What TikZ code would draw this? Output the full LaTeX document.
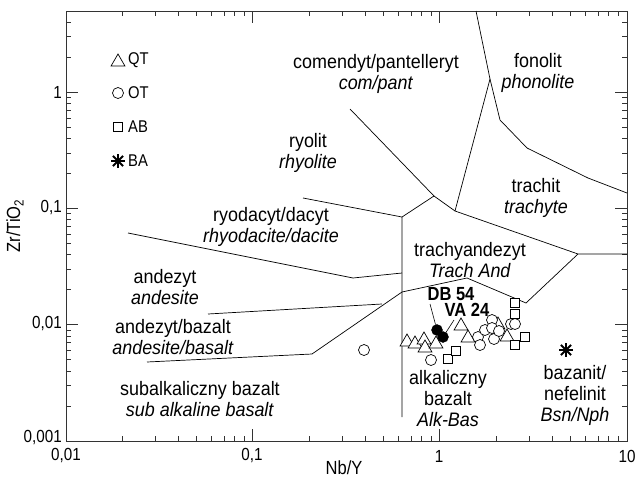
\documentclass[tikz,border=0pt]{standalone}
\usepackage{fontspec}
\setmainfont{Liberation Sans}
\newfontfamily\condfont{Liberation Sans}[FakeStretch=0.87]
\newfontfamily\lblfont{Liberation Sans}[FakeStretch=0.92]
\usetikzlibrary{shapes.geometric}
\begin{document}
\begin{tikzpicture}[x=1pt,y=-1pt,
  lbl/.style={align=center,inner sep=0,font=\lblfont\fontsize{19.5}{21}\selectfont},
  ticklbl/.style={inner sep=0,font=\condfont\fontsize{17.5}{20}\selectfont},
  leglbl/.style={inner sep=0,font=\condfont\fontsize{17}{20}\selectfont},
  axlbl/.style={inner sep=0,font=\condfont\fontsize{19}{22}\selectfont},
  smp/.style={inner sep=0,font=\condfont\fontsize{19}{21}\selectfont\bfseries},
  bnd/.style={line width=0.7pt,line join=round},
  frame/.style={line width=1pt,draw=black!80},
  tick/.style={line width=0.8pt,draw=black!80},
  tri/.style={draw,regular polygon,regular polygon sides=3,inner sep=0,minimum size=16pt,line width=0.7pt,fill=white},
  circ/.style={draw,circle,inner sep=0,minimum size=11pt,line width=0.7pt,fill=white},
  sq/.style={draw,rectangle,inner sep=0,minimum size=9.5pt,line width=0.7pt,fill=white},
  dot/.style={draw,circle,inner sep=0,minimum size=11pt,fill=black},
  starnode/.style={circle,inner sep=0,minimum size=14pt},
  spoke/.style={line width=1.9pt},
  leader/.style={line width=0.6pt}]
\useasboundingbox (0,0) rectangle (637,482);
% frame
\draw[frame] (66,11) rectangle (627,441);
% x ticks
\foreach \d in {0,1,2}{
  \foreach \m in {2,...,9}{
    \pgfmathsetmacro\xx{66+187*(\d+log10(\m))}
    \draw[tick] (\xx,441) -- ++(0,-5);
    \draw[tick] (\xx,11) -- ++(0,5);
  }
}
\foreach \xx in {252,439}{
  \draw[tick] (\xx,441) -- ++(0,-12);
  \draw[tick] (\xx,11) -- ++(0,12);
}
% y ticks
\foreach \d in {0,1,2}{
  \foreach \m in {2,...,9}{
    \pgfmathsetmacro\yy{441-116.3*(\d+log10(\m))}
    \draw[tick] (66,\yy) -- ++(5,0);
    \draw[tick] (627,\yy) -- ++(-5,0);
  }
}
\foreach \m in {2,3,4}{
  \pgfmathsetmacro\yy{441-116.3*(3+log10(\m))}
  \draw[tick] (66,\yy) -- ++(5,0);
  \draw[tick] (627,\yy) -- ++(-5,0);
}
\foreach \yy in {324,208,92}{
  \draw[tick] (66,\yy) -- ++(12,0);
  \draw[tick] (627,\yy) -- ++(-12,0);
}
% tick labels
\node[ticklbl,anchor=east] (ly1) at (62,92) {1};
\node[ticklbl,anchor=east] (ly2) at (62,208) {0,1};
\node[ticklbl,anchor=east] (ly3) at (62,324) {0,01};
\node[ticklbl,anchor=east] (ly4) at (62,438) {0,001};
\node[ticklbl] (lx1) at (66,456) {0,01};
\node[ticklbl] (lx2) at (252,456) {0,1};
\node[ticklbl] (lx3) at (439,456) {1};
\node[ticklbl] (lx4) at (627,456) {10};
\node[axlbl] (xt) at (344,468) {Nb/Y};
\node[axlbl,rotate=90] (yt) at (15,226) {Zr/TiO\textsubscript{2}};
% boundary vertices
\coordinate (a1) at (476,11);
\coordinate (a2) at (490,79);
\coordinate (a3) at (500,120);
\coordinate (a4) at (527,148);
\coordinate (a5) at (588,178);
\coordinate (a6) at (627,193);
\coordinate (b1) at (350,109);
\coordinate (b2) at (434,196);
\coordinate (b3) at (455,211);
\coordinate (b4) at (578,254);
\coordinate (b5) at (627,254);
\coordinate (c1) at (402,217);
\coordinate (c2) at (303,198);
\coordinate (c3) at (402,417);
\coordinate (d1) at (128,233);
\coordinate (d2) at (353,278);
\coordinate (d3) at (402,273);
\coordinate (e1) at (208,314);
\coordinate (e2) at (382,304);
\coordinate (f1) at (147,362);
\coordinate (f2) at (312,354);
\coordinate (f3) at (402,292);
\coordinate (f4) at (467,278);
\coordinate (f5) at (526,303);
\draw[bnd] (a1) -- (a2) -- (a3) -- (a4) -- (a5) -- (a6);
\draw[bnd] (a2) -- (b3);
\draw[bnd] (b1) -- (b2) -- (b3) -- (b4) -- (b5);
\draw[bnd] (b2) -- (c1);
\draw[bnd] (c2) -- (c1) -- (c3);
\draw[bnd] (d1) -- (d2) -- (d3);
\draw[bnd] (e1) -- (e2);
\draw[bnd] (f1) -- (f2) -- (f3) -- (f4) -- (f5) -- (b4);
% field labels
\node[lbl] (com) at (376,74) {comendyt/pantelleryt\\\textit{com/pant}};
\node[lbl] (fon) at (538,72.5) {fonolit\\\textit{phonolite}};
\node[lbl] (ryo) at (308,153) {ryolit\\\textit{rhyolite}};
\node[lbl] (tra) at (536,198) {trachit\\\textit{trachyte}};
\node[lbl] (rda) at (271,227) {ryodacyt/dacyt\\\textit{rhyodacite/dacite}};
\node[lbl] (and) at (165,287.5) {andezyt\\\textit{andesite}};
\node[lbl] (anb) at (173,337) {andezyt/bazalt\\\textit{andesite/basalt}};
\node[lbl] (sub) at (200,399.5) {subalkaliczny bazalt\\\textit{sub alkaline basalt}};
\node[lbl] (tan) at (470,260) {trachyandezyt\\\textit{Trach And}};
\node[lbl] (alk) at (448,399) {alkaliczny\\bazalt\\\textit{Alk-Bas}};
\node[lbl] (bsn) at (575,395) {bazanit/\\nefelinit\\\textit{Bsn/Nph}};
% data points
\foreach \x/\y [count=\i] in {407/342,415/344,424/340,425/348,436/344,461/326,468/338,498/325,507/337}
  \node[tri] (t\i) at (\x,\y) {};
\foreach \x/\y [count=\i] in {364/350,431/360,478/337,480/345,485/330,492/320,492/328,494/339,499/331,511/324,515/324}
  \node[circ] (o\i) at (\x,\y) {};
\foreach \x/\y [count=\i] in {515/303,515/314,515/345,525/337,448/359,456/351}
  \node[sq] (s\i) at (\x,\y) {};
\node[dot] (db) at (437,330) {};
\node[dot] (va) at (443,337) {};
\node[starnode] (ba) at (566,350) {};
\foreach \a in {0,45,...,315} \draw[spoke] (ba.center) -- (ba.\a);
% sample labels
\node[smp] (dbl) at (451,294) {DB 54};
\node[smp] (val) at (467,310) {VA 24};
\coordinate (dbs) at (430,304);
\coordinate (vas) at (454,320);
\draw[leader] (dbs) -- (db);
\draw[leader] (vas) -- (va);
% legend
\node[tri] (lt) at (118,62) {};
\node[circ] (lo) at (118,93) {};
\node[sq] (ls) at (118,127) {};
\node[starnode] (lb) at (118,161) {};
\foreach \a in {0,45,...,315} \draw[spoke] (lb.center) -- (lb.\a);
\node[leglbl,anchor=west] (ltt) at (128,60) {QT};
\node[leglbl,anchor=west] (lot) at (128,93) {OT};
\node[leglbl,anchor=west] (lst) at (128,127) {AB};
\node[leglbl,anchor=west] (lbt) at (128,161) {BA};
\end{tikzpicture}
\end{document}
